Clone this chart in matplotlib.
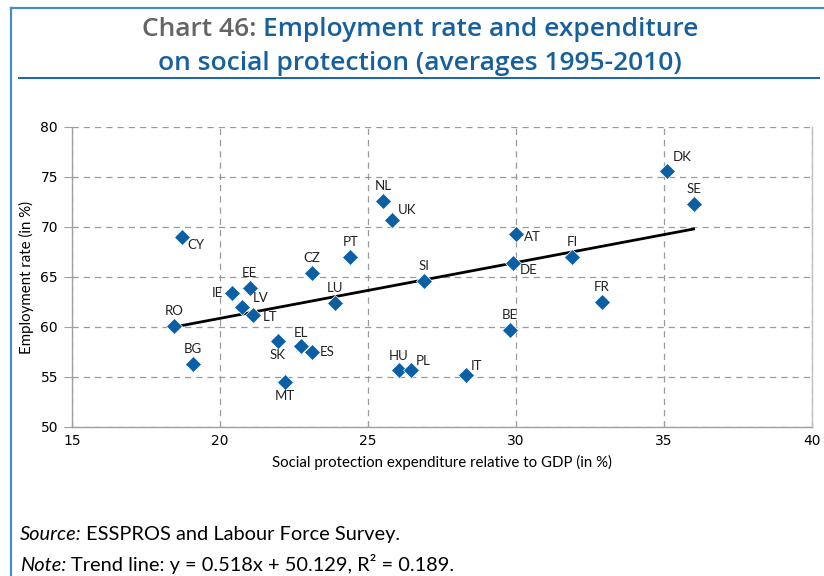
import matplotlib
matplotlib.use("Agg")
import matplotlib.pyplot as plt
from matplotlib import font_manager as fm
from matplotlib.lines import Line2D

countries = ["DK", "SE", "CY", "NL", "UK", "AT", "FI", "PT", "CZ", "SI", "DE", "EE", "IE",
             "LV", "LU", "FR", "LT", "RO", "BE", "SK", "EL", "ES", "BG", "HU", "PL", "IT", "MT"]
expenditure = [35.1, 36.0, 18.7, 25.5, 25.8, 30.0, 31.9, 24.4, 23.1, 26.9, 29.9, 21.0, 20.4,
               20.75, 23.9, 32.9, 21.1, 18.45, 29.8, 21.95, 22.75, 23.1, 19.1, 26.05, 26.45, 28.3, 22.2]
employment = [75.6, 72.3, 69.0, 72.6, 70.7, 69.3, 67.0, 67.0, 65.4, 64.6, 66.4, 63.9, 63.4,
              62.0, 62.4, 62.5, 61.2, 60.1, 59.7, 58.6, 58.1, 57.5, 56.3, 55.7, 55.7, 55.2, 54.5]
trend_x = [18.45, 36.0]
trend_y = [60.0, 69.8]
x_ticks = [15, 20, 25, 30, 35, 40]
y_ticks = [50, 55, 60, 65, 70, 75, 80]

available = {f.name for f in fm.fontManager.ttflist}
def pick(*names):
    for n in names:
        if n in available:
            return n
    return "DejaVu Sans"

body = pick("Lato", "Roboto", "Open Sans")
titlef = pick("Open Sans", "Noto Sans")

# label placement (offset in pixels, ha, va)
place = {
    "DK": (6, 8, "left", "bottom"), "SE": (0, 9, "center", "bottom"),
    "CY": (6, -2, "left", "top"), "NL": (0, 9, "center", "bottom"),
    "UK": (6, 4, "left", "bottom"), "AT": (8, -3, "left", "center"),
    "FI": (0, 9, "center", "bottom"), "PT": (0, 9, "center", "bottom"),
    "CZ": (0, 9, "center", "bottom"), "SI": (0, 9, "center", "bottom"),
    "DE": (7, -1, "left", "top"), "EE": (0, 9, "center", "bottom"),
    "IE": (-9, 0, "right", "center"), "LV": (11, 3, "left", "bottom"),
    "LU": (0, 9, "center", "bottom"), "FR": (0, 9, "center", "bottom"),
    "LT": (10, -2, "left", "center"), "RO": (0, 9, "center", "bottom"),
    "BE": (0, 9, "center", "bottom"), "SK": (0, -8, "center", "top"),
    "EL": (0, 7, "center", "bottom"), "ES": (8, 0, "left", "center"),
    "BG": (0, 9, "center", "bottom"), "HU": (0, 8, "center", "bottom"),
    "PL": (5, 3, "left", "bottom"), "IT": (5, 3, "left", "bottom"),
    "MT": (0, -8, "center", "top"),
}

fig = plt.figure(figsize=(8.24, 5.76), dpi=100)
W, H = 824, 576
renderer = fig.canvas.get_renderer()

# outer frame lines
fig.add_artist(Line2D([11 / W, 11 / W], [0, 1 - 8 / H], color="#4a8cc4", lw=1.6))
fig.add_artist(Line2D([11 / W, 1], [1 - 8 / H, 1 - 8 / H], color="#4a8cc4", lw=1.6))
fig.add_artist(Line2D([19 / W, 819 / W], [1 - 78 / H, 1 - 78 / H], color="#1565a8", lw=1.4))

blue = "#17609f"
tkw = dict(fontsize=19, family=titlef, weight="semibold", va="baseline")
pa = fig.text(0, 0, "Chart 46: ", alpha=0, **tkw)
pb = fig.text(0, 0, "Employment rate and expenditure", alpha=0, **tkw)
wa = pa.get_window_extent(renderer).width
wb = pb.get_window_extent(renderer).width
pa.remove(); pb.remove()
x0 = 420 - (wa + wb) / 2
fig.text(x0 / W, 1 - 36 / H, "Chart 46: ", ha="left", color="#646464", **tkw)
fig.text((x0 + wa) / W, 1 - 36 / H, "Employment rate and expenditure", ha="left",
         color=blue, **tkw)
fig.text(420 / W, 1 - 70 / H, "on social protection (averages 1995-2010)", ha="center",
         color=blue, **tkw)

ax = fig.add_axes([72 / W, 1 - 427 / H, (812 - 72) / W, (427 - 127) / H])
ax.set_xlim(15, 40)
ax.set_ylim(50, 80)
ax.set_xticks(x_ticks)
ax.set_yticks(y_ticks)
ax.grid(True, color="#9a9a9a", ls=(0, (5, 4)), lw=0.9)
for s in ax.spines.values():
    s.set_color("#a0a0a0")
    s.set_linewidth(1.0)
ax.spines["top"].set_visible(False)
ax.spines["right"].set_color("#c0c0c0")
ax.tick_params(axis="x", direction="in", length=4, color="#a0a0a0", labelsize=10, pad=5)
ax.tick_params(axis="y", direction="out", length=6, color="#a0a0a0", labelsize=10, pad=4)
for lab in ax.get_xticklabels() + ax.get_yticklabels():
    lab.set_family("DejaVu Sans")

ax.plot(trend_x, trend_y, color="black", lw=2, zorder=3)
ax.plot(expenditure, employment, ls="none", marker="D", ms=8.5, color="#0a5fa5",
        mec="white", mew=0.5, zorder=4)
for c, x, y in zip(countries, expenditure, employment):
    dx, dy, ha, va = place[c]
    ax.annotate(c, (x, y), xytext=(dx * 0.72, dy * 0.72), textcoords="offset points",
                ha=ha, va=va, fontsize=9.5, family=body, color="#222222", zorder=5)

ax.set_xlabel("Social protection expenditure relative to GDP (in %)", fontsize=10.8,
              family=body, labelpad=5)
ax.set_ylabel("Employment rate (in %)", fontsize=10.8, family=body, labelpad=5)

fkw = dict(fontsize=14.4, family=body, va="baseline", ha="left")
def two_part(y, a, b):
    t = fig.text(0, 0, a + " ", style="italic", alpha=0, **fkw)
    w = t.get_window_extent(renderer).width
    t.remove()
    fig.text(20 / W, 1 - y / H, a, style="italic", **fkw)
    fig.text((20 + w) / W, 1 - y / H, b, **fkw)

two_part(540, "Source:", "ESSPROS and Labour Force Survey.")
two_part(571, "Note:", "Trend line: y = 0.518x + 50.129, R\u00b2 = 0.189.")

fig.savefig("out.png", dpi=100)
